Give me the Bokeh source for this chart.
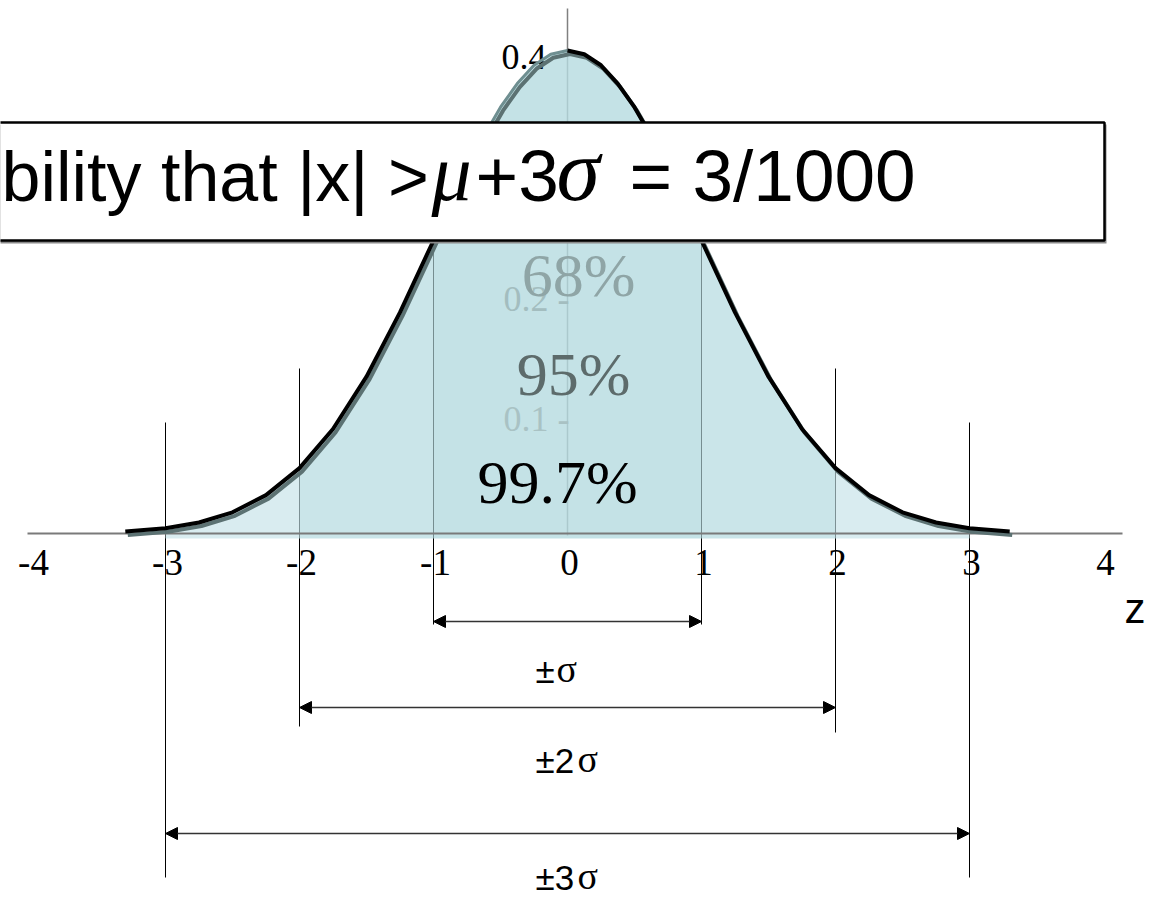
import numpy as np
from bokeh.plotting import figure
from bokeh.models import Range1d, Arrow, NormalHead
from bokeh.core.properties import value
from bokeh.embed import file_html
from bokeh.resources import INLINE

# ---------------- data ----------------
z_values = [-3.3, -3.0, -2.75, -2.5, -2.25, -2.0, -1.75, -1.5, -1.25, -1.0, -0.875, -0.75, -0.625,
            -0.5, -0.375, -0.25, -0.125, 0.0, 0.125, 0.25, 0.375, 0.5, 0.625, 0.75, 0.875, 1.0,
            1.25, 1.5, 1.75, 2.0, 2.25, 2.5, 2.75, 3.0, 3.3]
density = [0.0017, 0.0044, 0.0091, 0.0175, 0.0317, 0.0540, 0.0863, 0.1295, 0.1826, 0.2420,
           0.2717, 0.3011, 0.3280, 0.3521, 0.3716, 0.3867, 0.3958, 0.3989, 0.3958, 0.3867,
           0.3716, 0.3521, 0.3280, 0.3011, 0.2717, 0.2420, 0.1826, 0.1295, 0.0863, 0.0540,
           0.0317, 0.0175, 0.0091, 0.0044, 0.0017]
x_ticks = [-4, -3, -2, -1, 0, 1, 2, 3, 4]
x_tick_labels = ["-4", "-3", "-2", "-1", "0", "1", "2", "3", "4"]
y_ticks = [0.1, 0.2, 0.4]
y_tick_labels = ["0.1 -", "0.2 -", "0.4"]
sigma_levels = [1, 2, 3]
coverage_labels = ["68%", "95%", "99.7%"]
range_prefix = ["\u00b1", "\u00b12", "\u00b13"]
range_sigma = ["\u03c3", "\u03c3", "\u03c3"]
axis_name = "z"
headline_parts = ["bility that |x| >", "\u03bc", "+3", "\u03c3", "= 3/1000"]

# ---------------- layout helpers (reference pixel -> data) ----------------
W, H = 1149, 899
UX, UY = 134.0, 1210.8
BASE_FIX = 0.38  # text baseline correction, in em


def sx(px):
    return (px - 567.0) / UX


def sy(py):
    return (533.0 - py) / UY


def ty(py, fs):
    """data y for a text whose visual baseline should sit at reference pixel py"""
    return sy(py - BASE_FIX * fs)


p = figure(width=W, height=H, x_range=Range1d(sx(0), sx(W)), y_range=Range1d(sy(H), sy(0)),
           output_backend="svg", toolbar_location=None, x_axis_type=None, y_axis_type=None,
           min_border=0, outline_line_color=None, background_fill_color="white",
           border_fill_color="white")
p.grid.visible = False

z = np.array(z_values)
d = np.array(density)


def dens_at(v):
    return float(d[np.argmin(np.abs(z - v))])


SERIF = value("Liberation Serif")
SANS = value("Liberation Sans")

# vertical zero line
p.segment(x0=[0], y0=[sy(8)], x1=[0], y1=[sy(535)], line_color="#808080", line_width=1.5)

# dimension lines (drawn under the translucent fill)
tops = {1: None, 2: sy(368), 3: sy(422)}
bottoms_left = {1: sy(624), 2: sy(726), 3: sy(877)}
bottoms_right = {1: sy(624), 2: sy(732), 3: sy(877)}
x0s, y0s, x1s, y1s = [], [], [], []
for k in sigma_levels:
    top = tops[k] if tops[k] is not None else dens_at(k)
    x0s += [-k, k]
    x1s += [-k, k]
    y0s += [top, top]
    y1s += [bottoms_left[k], bottoms_right[k]]
p.segment(x0=x0s, y0=y0s, x1=x1s, y1=y1s, line_color="black", line_width=1)

# shaded regions
fill_bottom = -5 / UY


def region(lo, hi):
    return (z >= lo - 1e-9) & (z <= hi + 1e-9)


for (lo, hi), col in [((-3, -2), "#cfe7ec"), ((2, 3), "#cfe7ec"),
                      ((-2, -1), "#bddee3"), ((1, 2), "#bddee3"),
                      ((-1, 1), "#b5dbe0")]:
    m = region(lo, hi)
    p.varea(x=z[m], y1=np.full(m.sum(), fill_bottom), y2=d[m], fill_color=col, fill_alpha=0.8)

# y tick labels (the lower two are seen faded through the fill)
FS_Y = 36
p.text(x=[sx(569), sx(569), sx(546)],
       y=[ty(sy_px, FS_Y) for sy_px in (533 - y_ticks[0] * UY + 20, 533 - y_ticks[1] * UY + 21,
                                        533 - y_ticks[2] * UY + 21)],
       text=y_tick_labels, text_font=SERIF, text_font_size=f"{FS_Y}px", text_align="right",
       text_baseline="alphabetic", text_color=["#a9c2c4", "#a3bdbf", "#000000"])

# horizontal axis line
p.segment(x0=[sx(27)], y0=[0], x1=[sx(1122)], y1=[0], line_color="#7a7a7a", line_width=2)

# curve: shadow then black line (upper-left part greyish as in the reference)
p.line(x=z + 2.5 / UX, y=d - 3.5 / UY, line_color="#5c7273", line_width=4)
ma = z <= -1 + 1e-9
mb = z >= -1e-9
mg = (z >= -1 - 1e-9) & (z <= 1e-9)
p.line(x=z[mg], y=d[mg], line_color="#6f8f91", line_width=3)
p.line(x=z[ma], y=d[ma], line_color="black", line_width=4)
p.line(x=z[mb], y=d[mb], line_color="black", line_width=4)

# headline box
p.quad(left=[sx(-30)], right=[sx(1106)], top=[sy(124)], bottom=[sy(243)], fill_color="#8a8a8a",
       line_color=None)
p.quad(left=[sx(-30)], right=[sx(1104)], top=[sy(122)], bottom=[sy(240)], fill_color="white",
       line_color="black", line_width=2.5)
FS_H = 70
p.text(x=[sx(1)], y=[ty(203, FS_H)], text=[headline_parts[0]], text_font=SANS,
       text_font_size=f"{FS_H}px", text_align="left", text_baseline="alphabetic", text_color="black")
p.text(x=[sx(475), sx(629)], y=[ty(203, 73)] * 2, text=[headline_parts[2], headline_parts[4]],
       text_font=SANS, text_font_size="73px", text_align="left", text_baseline="alphabetic",
       text_color="black")
p.text(x=[sx(431)], y=[ty(203, 80)], text=[headline_parts[1]],
       text_font=SERIF, text_font_style="italic", text_font_size="80px", text_align="left",
       text_baseline="alphabetic", text_color="black")
p.text(x=[sx(556)], y=[ty(203, 88)], text=[headline_parts[3]],
       text_font=SERIF, text_font_style="italic", text_font_size="88px", text_align="left",
       text_baseline="alphabetic", text_color="black")

# coverage percentages
FS_P = 62
p.text(x=[sx(578), sx(573), sx(557)], y=[ty(298, FS_P), ty(397, FS_P), ty(505, FS_P)],
       text=coverage_labels, text_font=SERIF, text_font_size=f"{FS_P}px", text_align="center",
       text_baseline="alphabetic", text_color=["#8fa5a6", "#5d6b6b", "#000000"])

# x tick labels
FS_X = 37
p.text(x=[t + 2 / UX for t in x_ticks], y=[ty(576, FS_X)] * len(x_ticks), text=x_tick_labels,
       text_font=SERIF, text_font_size=f"{FS_X}px", text_align="center", text_baseline="alphabetic",
       text_color="black")

# axis name
p.text(x=[sx(1124)], y=[ty(624, 42)], text=[axis_name], text_font=SANS, text_font_size="42px",
       text_align="left", text_baseline="alphabetic", text_color="black")

# range arrows
arrow_rows = [sy(621), sy(707), sy(833)]
for k, yy in zip(sigma_levels, arrow_rows):
    p.add_layout(Arrow(start=NormalHead(size=12, fill_color="black", line_color="black"),
                       end=NormalHead(size=12, fill_color="black", line_color="black"),
                       x_start=-k, x_end=k, y_start=yy, y_end=yy,
                       line_color="#333333", line_width=1.5))

# range labels
FS_R, FS_S = 35, 38
p.text(x=[sx(535)] * 3, y=[ty(683, FS_R), ty(773, FS_R), ty(890, FS_R)], text=range_prefix,
       text_font=SANS, text_font_size=f"{FS_R}px", text_align="left", text_baseline="alphabetic",
       text_color="black")
p.text(x=[sx(556), sx(577), sx(577)], y=[ty(683, FS_S), ty(773, FS_S), ty(890, FS_S)],
       text=range_sigma, text_font=SERIF, text_font_size=f"{FS_S}px", text_align="left",
       text_baseline="alphabetic", text_color="black")

open("out.html", "w").write(file_html(p, INLINE))
